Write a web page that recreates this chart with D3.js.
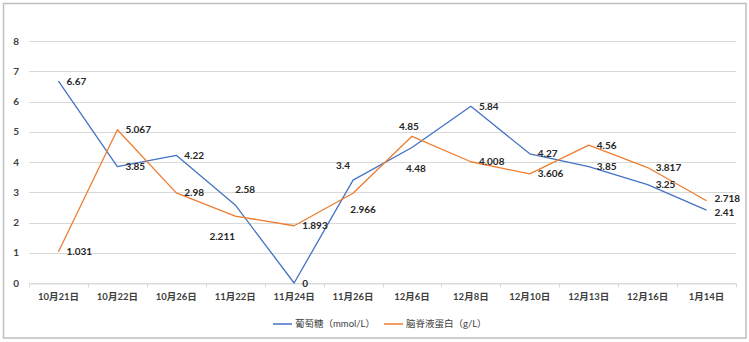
<!DOCTYPE html>
<html>
<head>
<meta charset="utf-8">
<script src="https://cdn.jsdelivr.net/npm/d3@7"></script>
<style>
  body { margin: 0; background: #fff; }
  text { font-family: Lato, "Noto Sans CJK SC", sans-serif; }
</style>
</head>
<body>
<div id="chart"></div>
<script>
var categories = ["10月21日", "10月22日", "10月26日", "11月22日", "11月24日", "11月26日",
                  "12月6日", "12月8日", "12月10日", "12月13日", "12月16日", "1月14日"];
var glucose = [6.67, 3.85, 4.22, 2.58, 0, 3.4, 4.48, 5.84, 4.27, 3.85, 3.25, 2.41];
var protein = [1.031, 5.067, 2.98, 2.211, 1.893, 2.966, 4.85, 4.008, 3.606, 4.56, 3.817, 2.718];
var seriesNames = ["葡萄糖（mmol/L）", "脑脊液蛋白（g/L）"];
var yTicks = [0, 1, 2, 3, 4, 5, 6, 7, 8];

// label nudges where the labels were moved off the default right-hand spot
var glucoseLabelPos = {3: [10, -15, "middle"], 5: [-10, -15, "middle"], 6: [4, 21, "middle"], 11: [8, 2, "start"]};
var proteinLabelPos = {3: [-13, 20, "middle"], 5: [10, 16, "middle"], 6: [-3, -10, "middle"], 11: [8, -2, "start"]};

var width = 749, height = 342;
var margin = {left: 29, right: 13, top: 41, bottom: 59};

var svg = d3.select("#chart").append("svg")
  .attr("width", width)
  .attr("height", height);

svg.append("rect")
  .attr("x", 3.5).attr("y", 3.5)
  .attr("width", 742.5).attr("height", 334.5)
  .attr("fill", "#fff")
  .attr("stroke", "#bfbfbf")
  .attr("stroke-width", 1.5);

var x = d3.scaleBand()
  .domain(categories)
  .range([margin.left, width - margin.right]);

var y = d3.scaleLinear()
  .domain([0, 8])
  .range([height - margin.bottom, margin.top]);

// grid
svg.append("g")
  .selectAll("line")
  .data(yTicks)
  .enter().append("line")
  .attr("x1", margin.left).attr("x2", width - margin.right)
  .attr("y1", function(d) { return Math.round(y(d)) + 0.5; })
  .attr("y2", function(d) { return Math.round(y(d)) + 0.5; })
  .attr("stroke", "#d9d9d9")
  .attr("stroke-width", 1);

// y labels
svg.append("g")
  .selectAll("text")
  .data(yTicks)
  .enter().append("text")
  .attr("x", 19)
  .attr("y", function(d) { return y(d); })
  .attr("dy", "0.35em")
  .attr("text-anchor", "end")
  .attr("font-size", 10)
  .attr("font-weight", "bold")
  .attr("fill", "#404040")
  .text(function(d) { return d; });

// x axis
var xAxis = svg.append("g")
  .attr("transform", "translate(0," + (Math.round(y(0)) + 0.5) + ")")
  .call(d3.axisBottom(x).tickSize(0).tickPadding(10));
xAxis.select(".domain").attr("stroke", "#d9d9d9");
xAxis.selectAll("text")
  .attr("font-family", "'Noto Sans CJK SC', sans-serif")
  .attr("font-size", 9.5)
  .attr("font-weight", "bold")
  .attr("fill", "#404040");

var bounds = categories.map(function(c) { return x(c); }).concat([x.range()[1]]);
xAxis.selectAll(".bound")
  .data(bounds)
  .enter().append("line")
  .attr("class", "bound")
  .attr("x1", function(d) { return Math.round(d) + 0.5; })
  .attr("x2", function(d) { return Math.round(d) + 0.5; })
  .attr("y1", 0).attr("y2", 4)
  .attr("stroke", "#d9d9d9");

var cx = function(d, i) { return x(categories[i]) + x.bandwidth() / 2; };
var line = d3.line()
  .x(function(d, i) { return cx(d, i); })
  .y(function(d) { return y(d); });

var series = [
  {values: glucose, color: "#4472c4", pos: glucoseLabelPos},
  {values: protein, color: "#ed7d31", pos: proteinLabelPos}
];

series.forEach(function(s) {
  svg.append("path")
    .attr("d", line(s.values))
    .attr("fill", "none")
    .attr("stroke", s.color)
    .attr("stroke-width", 1.3)
    .attr("stroke-linejoin", "round");
});

series.forEach(function(s) {
  svg.append("g")
    .selectAll("text")
    .data(s.values)
    .enter().append("text")
    .attr("x", function(d, i) { var p = s.pos[i]; return cx(d, i) + (p ? p[0] : 8); })
    .attr("y", function(d, i) { var p = s.pos[i]; return y(d) + (p ? p[1] : 0); })
    .attr("dy", "0.35em")
    .attr("text-anchor", function(d, i) { var p = s.pos[i]; return p ? p[2] : "start"; })
    .attr("font-size", 10)
    .attr("font-weight", "bold")
    .attr("fill", "#262626")
    .text(function(d) { return d; });
});

// legend
var legend = svg.append("g").attr("transform", "translate(0,324)");
var legendX = [273, 384];
series.forEach(function(s, i) {
  legend.append("line")
    .attr("x1", legendX[i]).attr("x2", legendX[i] + 19)
    .attr("y1", 0).attr("y2", 0)
    .attr("stroke", s.color)
    .attr("stroke-width", 1.5);
  legend.append("text")
    .attr("x", legendX[i] + 22)
    .attr("y", 0)
    .attr("dy", "0.35em")
    .attr("font-family", "'Noto Sans CJK SC', sans-serif")
    .attr("font-size", 9.5)
    .attr("fill", "#404040")
    .text(seriesNames[i]);
});
</script>
</body>
</html>
